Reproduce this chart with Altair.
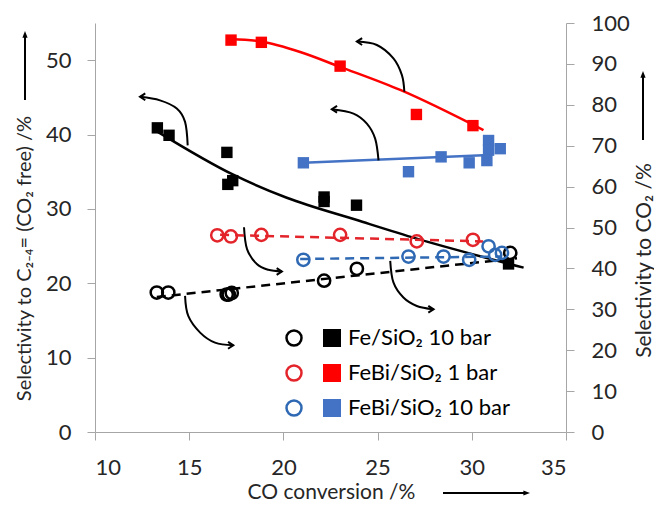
import altair as alt
import pandas as pd

# ---------------- data ----------------
SERIES = ["Fe/SiO₂ 10 bar", "FeBi/SiO₂ 1 bar", "FeBi/SiO₂ 10 bar"]
SQUARE_COLORS = ["#000000", "#ff0000", "#4472c4"]
CIRCLE_COLORS = ["#000000", "#e3242b", "#2f69b3"]

X_TICKS = [10, 15, 20, 25, 30, 35]
YL_TICKS = [0, 10, 20, 30, 40, 50]
YR_TICKS = [0, 10, 20, 30, 40, 50, 60, 70, 80, 90, 100]

# filled squares: selectivity to C2-4= (CO2 free) /% (left axis)
FE10_SQ_X = [13.31, 13.93, 17.00, 17.31, 17.05, 22.16, 22.16, 23.88, 31.95]
FE10_SQ_Y = [40.9, 39.9, 37.6, 33.8, 33.3, 31.6, 31.0, 30.5, 22.6]
FEBI1_SQ_X = [17.22, 18.83, 23.01, 27.06, 30.06]
FEBI1_SQ_Y = [52.7, 52.4, 49.2, 42.7, 41.2]
FEBI10_SQ_X = [21.06, 26.64, 28.37, 29.86, 30.89, 30.89, 31.51, 30.80]
FEBI10_SQ_Y = [36.2, 35.0, 37.0, 36.2, 39.2, 37.9, 38.1, 36.5]

# open circles: selectivity to CO2 /% (right axis)
FE10_CI_X = [13.28, 13.89, 16.99, 17.26, 17.10, 22.16, 23.90, 32.04]
FE10_CI_Y = [34.1, 34.1, 33.6, 34.0, 33.6, 37.0, 39.9, 43.8]
FEBI1_CI_X = [16.49, 17.21, 18.83, 23.01, 27.08, 30.06]
FEBI1_CI_Y = [48.1, 47.8, 48.2, 48.2, 46.6, 47.0]
FEBI10_CI_X = [21.06, 26.64, 28.50, 29.86, 30.89, 31.24, 31.60]
FEBI10_CI_Y = [42.1, 42.9, 42.9, 42.1, 45.4, 43.3, 43.8]

# solid trend lines (left axis)
FE10_FIT_X = [13.31, 17.34, 20.18, 23.90, 27.08, 32.75]
FE10_FIT_Y = [40.4, 34.6, 31.5, 28.5, 26.0, 22.1]
FEBI1_FIT_X = [17.22, 18.83, 20.89, 23.01, 26.20, 30.62]
FEBI1_FIT_Y = [52.85, 52.5, 51.1, 49.1, 46.0, 40.6]
FEBI10_FIT_X = [21.06, 30.62]
FEBI10_FIT_Y = [36.2, 37.2]

# dashed trend lines (right axis)
FE10_LIN_X = [13.28, 32.40]
FE10_LIN_Y = [33.0, 42.5]
FEBI1_LIN_X = [16.64, 30.60]
FEBI1_LIN_Y = [48.2, 46.6]
FEBI10_LIN_X = [20.89, 31.51]
FEBI10_LIN_Y = [42.3, 42.9]

# curved annotation arrows (x in CO conversion, y in left-axis units)
ARROW_X = [
    [14.92, 14.78, 14.34, 13.45, 12.39],
    [26.42, 26.29, 25.84, 24.96, 23.90],
    [25.05, 24.87, 24.43, 23.72, 22.57],
    [17.91, 18.07, 18.59, 19.20, 19.92],
    [25.67, 25.84, 26.37, 27.08, 27.97],
    [14.78, 14.95, 15.58, 16.37, 17.34],
]
ARROW_Y = [
    [38.54, 41.70, 43.50, 44.60, 45.07],
    [45.75, 47.99, 50.24, 52.04, 52.50],
    [36.52, 39.45, 41.47, 42.82, 43.40],
    [27.53, 24.60, 22.58, 21.81, 21.59],
    [23.02, 20.11, 18.08, 16.95, 16.50],
    [18.30, 15.60, 13.36, 12.01, 11.65],
]
ARROW_DIR = ["left", "left", "left", "right", "right", "right"]

# ---------------- tables ----------------
def table(groups):
    rows = []
    for s, xs, ys in groups:
        for xv, yv in zip(xs, ys):
            rows.append({"series": s, "x": xv, "y": yv})
    return pd.DataFrame(rows)

sq_df = table([(SERIES[0], FE10_SQ_X, FE10_SQ_Y), (SERIES[1], FEBI1_SQ_X, FEBI1_SQ_Y),
               (SERIES[2], FEBI10_SQ_X, FEBI10_SQ_Y)])
ci_df = table([(SERIES[0], FE10_CI_X, FE10_CI_Y), (SERIES[1], FEBI1_CI_X, FEBI1_CI_Y),
               (SERIES[2], FEBI10_CI_X, FEBI10_CI_Y)])
fit_df = table([(SERIES[0], FE10_FIT_X, FE10_FIT_Y), (SERIES[1], FEBI1_FIT_X, FEBI1_FIT_Y),
                (SERIES[2], FEBI10_FIT_X, FEBI10_FIT_Y)])
lin_df = table([(SERIES[0], FE10_LIN_X, FE10_LIN_Y), (SERIES[1], FEBI1_LIN_X, FEBI1_LIN_Y),
                (SERIES[2], FEBI10_LIN_X, FEBI10_LIN_Y)])
arrow_rows = []
for i, (xs, ys) in enumerate(zip(ARROW_X, ARROW_Y)):
    for j, (xv, yv) in enumerate(zip(xs, ys)):
        arrow_rows.append({"arrow": i, "seq": j, "x": xv, "y": yv, "dir": ARROW_DIR[i]})
arrow_df = pd.DataFrame(arrow_rows)
leg_df = pd.DataFrame({"series": SERIES})
one = pd.DataFrame({"k": [0]})

# ---------------- styling ----------------
FONT = "Lato"
TXT = "#262626"
AX = "#a6a6a6"
W, H = 471, 409

common_axis = dict(grid=False, domainColor=AX, tickColor=AX, tickSize=8, labelFont=FONT,
                   labelFontSize=22, labelColor=TXT, titleFont=FONT,
                   titleColor=TXT, titleFontWeight="normal", titleAlign="center",
                   titleBaseline="middle")

x_enc = alt.X("x:Q", scale=alt.Scale(domain=[10, 35], nice=False, zero=False),
              axis=alt.Axis(values=X_TICKS, title="CO conversion /%", labelPadding=17,
                            titleFontSize=21, titleX=236, titleY=60, titleAngle=0,
                            **common_axis))
yl_enc = alt.Y("y:Q", scale=alt.Scale(domain=[0, 55], nice=False),
               axis=alt.Axis(values=YL_TICKS, orient="left", labelPadding=16,
                             title="Selectivity to C₂₋₄= (CO₂ free) /%", titleFontSize=20,
                             titleX=-71, titleY=235, titleAngle=270, **common_axis))
yr_enc = alt.Y("y:Q", scale=alt.Scale(domain=[0, 100], nice=False),
               axis=alt.Axis(values=YR_TICKS, orient="right", labelPadding=17,
                             title="Selectivity to CO₂ /%", titleFontSize=21,
                             titleX=78, titleY=237, titleAngle=270, **common_axis))

LEFT_HEAD = "M 1 -0.65 L 0 0 L 1 0.65"
RIGHT_HEAD = "M -1 -0.65 L 0 0 L -1 0.65"
UP_TRI = "M 0 0 L 0.55 1.4 L -0.55 1.4 Z"
RIGHT_TRI = "M 0 0 L -1.4 0.55 L -1.4 -0.55 Z"

# ---------------- left-axis group ----------------
fit = alt.Chart(fit_df).mark_line(strokeWidth=2.5, interpolate="monotone").encode(
    x=x_enc, y=yl_enc,
    stroke=alt.Stroke("series:N", scale=alt.Scale(domain=SERIES, range=SQUARE_COLORS), legend=None))
squares = alt.Chart(sq_df).mark_point(shape="square", filled=True, size=130, opacity=1).encode(
    x=x_enc, y=yl_enc,
    color=alt.Color("series:N", scale=alt.Scale(domain=SERIES, range=SQUARE_COLORS), legend=None))
arrows = alt.Chart(arrow_df).mark_line(interpolate="cardinal", color="black", strokeWidth=2).encode(
    x=x_enc, y=yl_enc, detail="arrow:N", order="seq:Q")
heads = alt.Chart(arrow_df).transform_filter("datum.seq == 4").mark_point(
    filled=False, strokeWidth=2, size=110, color="black", opacity=1).encode(
    x=x_enc, y=yl_enc,
    shape=alt.Shape("dir:N", scale=alt.Scale(domain=["left", "right"], range=[LEFT_HEAD, RIGHT_HEAD]),
                    legend=None))

# axis-title arrows
t_left = alt.Chart(one).mark_rule(color="black", strokeWidth=2).encode(
    x=alt.value(-70), y=alt.value(77), y2=alt.value(14))
t_left_h = alt.Chart(one).mark_point(shape=UP_TRI, filled=True, size=90, color="black", opacity=1).encode(
    x=alt.value(-70), y=alt.value(8))
t_right = alt.Chart(one).mark_rule(color="black", strokeWidth=2).encode(
    x=alt.value(548), y=alt.value(117), y2=alt.value(54))
t_right_h = alt.Chart(one).mark_point(shape=UP_TRI, filled=True, size=90, color="black", opacity=1).encode(
    x=alt.value(548), y=alt.value(48))
t_x = alt.Chart(one).mark_rule(color="black", strokeWidth=2).encode(
    x=alt.value(348), x2=alt.value(429), y=alt.value(470))
t_x_h = alt.Chart(one).mark_point(shape=RIGHT_TRI, filled=True, size=90, color="black", opacity=1).encode(
    x=alt.value(435), y=alt.value(470))

left = alt.layer(fit, squares, arrows, heads, t_left, t_left_h, t_right, t_right_h, t_x, t_x_h)

# ---------------- right-axis group ----------------
lin = alt.Chart(lin_df).mark_line(strokeWidth=2.5, strokeDash=[9, 6]).encode(
    x=x_enc, y=yr_enc,
    stroke=alt.Stroke("series:N", scale=alt.Scale(domain=SERIES, range=CIRCLE_COLORS), legend=None))
circles = alt.Chart(ci_df).mark_point(shape="circle", filled=False, strokeWidth=2.5, size=150,
                                      opacity=1).encode(
    x=x_enc, y=yr_enc,
    color=alt.Color("series:N", scale=alt.Scale(domain=SERIES, range=CIRCLE_COLORS), legend=None))

right = alt.layer(lin, circles)

# ---------------- legend (inside the plot) ----------------
leg_y = alt.Y("series:N", scale=alt.Scale(domain=SERIES, range=[315, 385], padding=0), axis=None)
leg_ci = alt.Chart(leg_df).mark_point(shape="circle", filled=False, strokeWidth=2.5, size=225,
                                      opacity=1).encode(
    x=alt.value(199), y=leg_y,
    stroke=alt.Stroke("series:N", scale=alt.Scale(domain=SERIES, range=CIRCLE_COLORS), legend=None))
leg_sq = alt.Chart(leg_df).mark_point(shape="square", filled=True, size=324, opacity=1).encode(
    x=alt.value(237), y=leg_y,
    fill=alt.Fill("series:N", scale=alt.Scale(domain=SERIES, range=SQUARE_COLORS), legend=None))
leg_txt = alt.Chart(leg_df).mark_text(align="left", baseline="middle", font=FONT, fontSize=22,
                                      color="#000000").encode(
    x=alt.value(253), y=leg_y, text="series:N")
legend = alt.layer(leg_ci, leg_sq, leg_txt)

chart = alt.layer(left, right, legend).resolve_scale(
    y="independent", color="independent", stroke="independent", fill="independent"
).properties(
    width=W, height=H,
    autosize=alt.AutoSizeParams(type="none"),
    padding={"left": 87, "top": 15, "right": 88, "bottom": 71},
).configure_view(stroke=None)

chart.save("out.html", embed_options={"renderer": "svg", "actions": False})
